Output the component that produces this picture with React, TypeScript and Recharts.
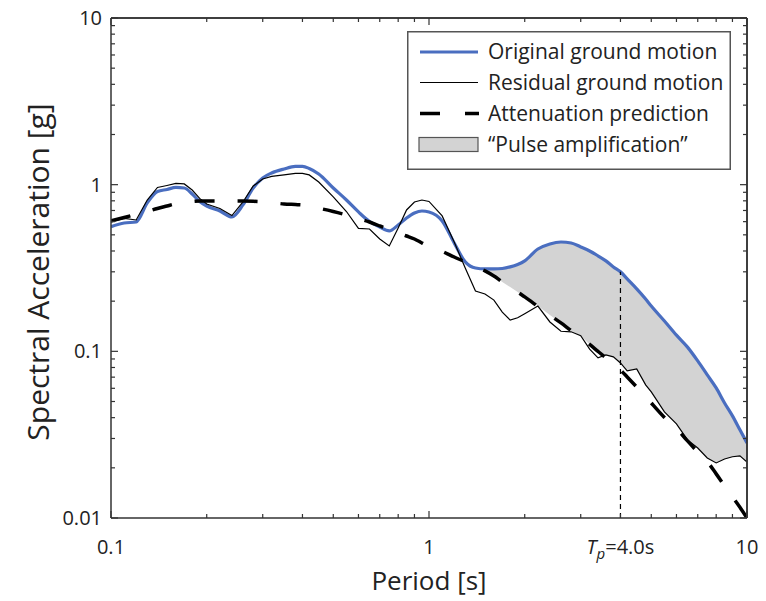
import React from 'react';
import { ComposedChart, Line, Area, XAxis, YAxis, ReferenceLine, Legend, Label } from 'recharts';

// periods [s]
const periods = [
  0.1, 0.11, 0.12, 0.13, 0.14, 0.15, 0.16, 0.17, 0.18, 0.19, 0.2,
  0.22, 0.24, 0.26, 0.28, 0.3, 0.32, 0.35, 0.38, 0.4, 0.42, 0.45,
  0.5, 0.55, 0.6, 0.65, 0.7, 0.75, 0.8, 0.85, 0.9, 0.95, 1.0,
  1.1, 1.2, 1.3, 1.4, 1.5, 1.6, 1.7, 1.8, 1.9, 2.0,
  2.2, 2.4, 2.6, 2.8, 3.0, 3.2, 3.4, 3.6, 3.8, 4.0,
  4.2, 4.5, 4.8, 5.0, 5.5, 6.0, 6.5, 7.0, 7.5, 8.0, 8.5, 9.0, 9.5, 10,
];

// spectral acceleration [g]
const originalMotion = [
  0.56, 0.589, 0.597, 0.777, 0.91, 0.936, 0.962, 0.955, 0.879, 0.793, 0.745,
  0.695, 0.64, 0.756, 0.955, 1.097, 1.175, 1.242, 1.286, 1.286, 1.251, 1.159,
  0.955, 0.809, 0.686, 0.601, 0.557, 0.528, 0.573, 0.631, 0.676, 0.695, 0.686,
  0.606, 0.447, 0.344, 0.316, 0.312, 0.312, 0.314, 0.321, 0.332, 0.349,
  0.411, 0.441, 0.453, 0.447, 0.423, 0.4, 0.374, 0.349, 0.321, 0.3,
  0.272, 0.237, 0.206, 0.187, 0.152, 0.125, 0.106, 0.0876, 0.0722, 0.0603, 0.049, 0.041, 0.0338, 0.0282,
];

const residualMotion = [
  0.597, 0.627, 0.614, 0.809, 0.962, 0.989, 1.017, 1.01, 0.929, 0.827, 0.766,
  0.72, 0.653, 0.787, 0.982, 1.082, 1.12, 1.144, 1.168, 1.168, 1.144, 1.038,
  0.844, 0.69, 0.546, 0.542, 0.472, 0.429, 0.55, 0.705, 0.787, 0.809, 0.793,
  0.649, 0.453, 0.316, 0.23, 0.221, 0.203, 0.172, 0.154, 0.159, 0.168,
  0.187, 0.15, 0.132, 0.131, 0.124, 0.103, 0.0913, 0.0951, 0.0926, 0.0852,
  0.0763, 0.0784, 0.0629, 0.0571, 0.0433, 0.0367, 0.0294, 0.0263, 0.0229, 0.0214, 0.0226, 0.0233, 0.0236, 0.0217,
];

const attenuation = [
  0.606, 0.635, 0.663, 0.69, 0.72, 0.745, 0.769, 0.783, 0.793, 0.798, 0.798,
  0.798, 0.798, 0.798, 0.795, 0.789, 0.78, 0.766, 0.76, 0.756, 0.74, 0.722,
  0.69, 0.658, 0.627, 0.597, 0.565, 0.535, 0.513, 0.492, 0.472, 0.447, 0.426,
  0.398, 0.368, 0.344, 0.321, 0.304, 0.283, 0.261, 0.243, 0.227, 0.212,
  0.186, 0.165, 0.148, 0.133, 0.121, 0.11, 0.0999, 0.0913, 0.084, 0.0773,
  0.0702, 0.0611, 0.0536, 0.049, 0.0401, 0.0345, 0.029, 0.0249, 0.0218, 0.0184, 0.0156, 0.0134, 0.0116, 0.01,
];

const pulseStart = 1.3;
const pulsePeriod = 4.0;

const xMajorTicks = [0.1, 1, 10];
const xTickLabels = ['0.1', '1', '10'];
const xMinorTicks = [0.2, 0.3, 0.4, 0.5, 0.6, 0.7, 0.8, 0.9, 2, 3, 4, 5, 6, 7, 8, 9];
const yMajorTicks = [0.01, 0.1, 1, 10];
const yTickLabels = ['0.01', '0.1', '1', '10'];
const yMinorTicks = [
  0.02, 0.03, 0.04, 0.05, 0.06, 0.07, 0.08, 0.09,
  0.2, 0.3, 0.4, 0.5, 0.6, 0.7, 0.8, 0.9,
  2, 3, 4, 5, 6, 7, 8, 9,
];

const legendLabels = [
  'Original ground motion',
  'Residual ground motion',
  'Attenuation prediction',
  '\u201CPulse amplification\u201D',
];

const WIDTH = 766;
const HEIGHT = 601;
// top/right axes are 10px thick, so the plot box runs 111..747 x 18..518
const MARGIN = { top: 8, right: 9, left: 31, bottom: 23 };
const PLOT_TOP = MARGIN.top + 10;
const PLOT_RIGHT = WIDTH - MARGIN.right - 10;

const BLUE = '#4a6ec0';
const AXIS = '#333';
const TEXT = '#222';
const FILL = '#d3d3d3';
const FONT = "'Open Sans', sans-serif";

const chartData = periods.map((p, i) => ({
  period: p,
  original: originalMotion[i],
  residual: residualMotion[i],
  attenuation: attenuation[i],
  pulse: p >= pulseStart ? [Math.max(residualMotion[i], attenuation[i]), originalMotion[i]] : undefined,
}));

const pulseTop = originalMotion[periods.indexOf(pulsePeriod)];

// bottom ticks point inward, and are mirrored on the top edge
const BottomTick = ({ x, y, payload }: any) => {
  const v = payload.value;
  const mi = xMajorTicks.indexOf(v);
  const len = mi >= 0 ? 7 : 4;
  return (
    <g>
      <line x1={x} x2={x} y1={y} y2={y - len} stroke={AXIS} strokeWidth={1.2} />
      <line x1={x} x2={x} y1={PLOT_TOP} y2={PLOT_TOP + len} stroke={AXIS} strokeWidth={1.2} />
      {mi >= 0 && (
        <text x={x} y={y + 36} textAnchor="middle" fontSize={20} fontFamily={FONT} fill={TEXT}>
          {xTickLabels[mi]}
        </text>
      )}
      {v === pulsePeriod && (
        <text x={x} y={y + 36} textAnchor="middle" fontSize={20} fontFamily={FONT} fill={TEXT}>
          <tspan fontStyle="italic">T</tspan>
          <tspan fontStyle="italic" fontSize={15} dy={5}>p</tspan>
          <tspan dy={-5}>={pulsePeriod.toFixed(1)}s</tspan>
        </text>
      )}
    </g>
  );
};

const LeftTick = ({ x, y, payload }: any) => {
  const mi = yMajorTicks.indexOf(payload.value);
  const len = mi >= 0 ? 7 : 4;
  return (
    <g>
      <line x1={x} x2={x + len} y1={y} y2={y} stroke={AXIS} strokeWidth={1.2} />
      <line x1={PLOT_RIGHT} x2={PLOT_RIGHT - len} y1={y} y2={y} stroke={AXIS} strokeWidth={1.2} />
      {mi >= 0 && (
        <text x={x - 9} y={y + 7} textAnchor="end" fontSize={20} fontFamily={FONT} fill={TEXT}>
          {yTickLabels[mi]}
        </text>
      )}
    </g>
  );
};

const LegendBox = () => {
  const rows = [21, 51.5, 82.5, 113.5];
  return (
    <svg width={324} height={139} style={{ display: 'block' }}>
      <rect x={0.75} y={0.75} width={322.5} height={137.5} fill="#fff" stroke="#555" strokeWidth={1.5} />
      <line x1={13} x2={71} y1={rows[0]} y2={rows[0]} stroke={BLUE} strokeWidth={3} />
      <line x1={13} x2={71} y1={rows[1]} y2={rows[1]} stroke="#000" strokeWidth={1.2} />
      <line x1={13} x2={72} y1={rows[2]} y2={rows[2]} stroke="#000" strokeWidth={3.5} strokeDasharray="20 25" />
      <rect x={12} y={rows[3] - 7} width={59} height={14} fill={FILL} stroke="#555" strokeWidth={1.2} />
      {legendLabels.map((label, i) => (
        <text key={label} x={81} y={rows[i] + 7} fontSize={21} fontFamily={FONT} fill={TEXT}>
          {label}
        </text>
      ))}
    </svg>
  );
};

const App: React.FC = () => {
  const xTicks = [...xMajorTicks, ...xMinorTicks];
  const yTicks = [...yMajorTicks, ...yMinorTicks];

  return (
    <div style={{ position: 'absolute', left: 0, top: 0, background: '#fff' }}>
      <ComposedChart width={WIDTH} height={HEIGHT} data={chartData} margin={MARGIN}>
        <XAxis
          dataKey="period"
          type="number"
          scale="log"
          domain={[0.1, 10]}
          allowDataOverflow
          ticks={xTicks}
          interval={0}
          tick={(p: any) => <BottomTick {...p} />}
          tickLine={false}
          tickSize={0}
          tickMargin={0}
          height={60}
          axisLine={{ stroke: AXIS, strokeWidth: 1.5 }}
        >
          <Label
            content={({ viewBox }: any) => (
              <text x={viewBox.x + viewBox.width / 2} y={viewBox.y + 72} textAnchor="middle" fontSize={26} fontFamily={FONT} fill={TEXT}>
                Period [s]
              </text>
            )}
          />
        </XAxis>
        <XAxis
          xAxisId="top"
          orientation="top"
          dataKey="period"
          type="number"
          scale="log"
          domain={[0.1, 10]}
          allowDataOverflow
          ticks={xTicks}
          tick={false}
          height={10}
          axisLine={{ stroke: AXIS, strokeWidth: 1.5 }}
        />
        <YAxis
          type="number"
          scale="log"
          domain={[0.01, 10]}
          allowDataOverflow
          ticks={yTicks}
          interval={0}
          tick={(p: any) => <LeftTick {...p} />}
          tickLine={false}
          tickSize={0}
          tickMargin={0}
          width={80}
          axisLine={{ stroke: AXIS, strokeWidth: 1.5 }}
        >
          <Label
            content={({ viewBox }: any) => {
              const cx = viewBox.x + 18;
              const cy = viewBox.y + viewBox.height / 2 + 4;
              return (
                <text x={cx} y={cy} transform={`rotate(-90, ${cx}, ${cy})`} textAnchor="middle" fontSize={30} fontFamily={FONT} fill={TEXT}>
                  Spectral Acceleration [g]
                </text>
              );
            }}
          />
        </YAxis>
        <YAxis
          yAxisId="right"
          orientation="right"
          type="number"
          scale="log"
          domain={[0.01, 10]}
          allowDataOverflow
          ticks={yTicks}
          tick={false}
          width={10}
          axisLine={{ stroke: AXIS, strokeWidth: 1.5 }}
        />
        <Area dataKey="pulse" type="linear" fill={FILL} fillOpacity={1} stroke="none" isAnimationActive={false} />
        <Line dataKey="original" type="monotone" stroke={BLUE} strokeWidth={3.2} dot={false} isAnimationActive={false} />
        <Line dataKey="residual" type="linear" stroke="#000" strokeWidth={1.2} dot={false} isAnimationActive={false} />
        <Line dataKey="attenuation" type="monotone" stroke="#000" strokeWidth={3.5} strokeDasharray="20 23" dot={false} isAnimationActive={false} />
        <ReferenceLine
          segment={[{ x: pulsePeriod, y: 0.01 }, { x: pulsePeriod, y: pulseTop }]}
          stroke="#000"
          strokeWidth={1.2}
          strokeDasharray="5 4"
        />
        <ReferenceLine y={10} stroke={AXIS} strokeWidth={1.5} ifOverflow="visible" />
        <ReferenceLine x={10} stroke={AXIS} strokeWidth={1.5} ifOverflow="visible" />
        <Legend
          layout="vertical"
          align="center"
          verticalAlign="middle"
          content={() => <LegendBox />}
          wrapperStyle={{ position: 'absolute', left: 407, top: 31, width: 324, height: 139 }}
        />
      </ComposedChart>
    </div>
  );
};

export default App;
